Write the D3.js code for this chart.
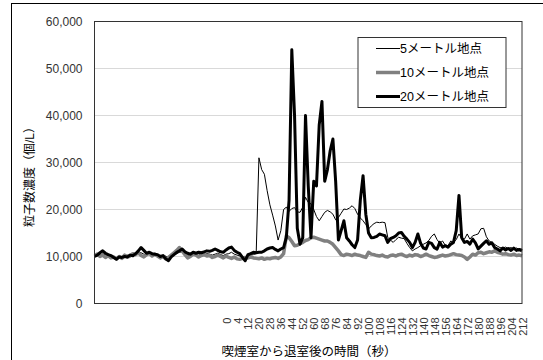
<!DOCTYPE html>
<html>
<head>
<meta charset="utf-8">
<script src="https://cdn.jsdelivr.net/npm/d3@7"></script>
<style>
  body { margin: 0; background: #fff; }
  svg text { font-family: "Liberation Sans", Arial, "Noto Sans CJK JP", sans-serif; }
</style>
</head>
<body>
<svg id="chart" width="543" height="360"></svg>
<script>
// particle concentration (個/L), one value per sample
const series5m = [
  10100, 10400, 10200, 10600, 10300, 10000, 10100, 9800, 9700, 10100,
  10000, 10200, 10300, 10000, 10400, 10700, 11000, 10800, 10500, 10300,
  10600, 10400, 10200, 10300, 10000, 9900, 10100, 9700, 10000, 10500,
  10600, 10900, 11000, 10700, 10300, 10200, 10600, 10400, 10300, 10500,
  10400, 10600, 10500, 10300, 10500, 10700, 10400, 10200, 10500, 10600,
  10900, 10500, 10300, 10100, 10000, 9800, 10100, 10300, 10400, 10600,
  31000, 28500, 27500, 24000, 21000, 18800, 16500, 13500, 15500, 20000,
  20500, 19600, 20200, 20400, 19500, 19400, 20500, 22600, 21500, 21200,
  20000, 18500, 17600, 18500, 19400, 19800, 19500, 19000, 17800, 18300,
  19200, 20100, 20000, 20300, 20800, 20200, 19000, 18200, 17600, 16800,
  15850, 16500, 17000, 17300, 17200, 17300, 17200, 14100, 13500, 13000,
  13600, 14100, 13900, 13800, 12800, 11900, 11200, 11600, 11900, 12300,
  12600, 12900, 13400, 14300, 14800, 13600, 12800, 13300, 12400, 12300,
  13300, 13000, 13600, 14800, 13800, 13700, 14800, 13700, 14400, 14600,
  14800, 15900, 16000, 14200, 13300, 13000, 12600, 12200, 11900, 11800,
  12000, 11700, 11900, 11600, 11800, 11500, 11600
];
const series10m = [
  10200, 10500, 10000, 10300, 9800, 10200, 9700, 9900, 9500, 10000,
  9600, 10300, 9900, 10100, 10600, 10400, 10800, 10200, 9900, 10400,
  10700, 10100, 10500, 10100, 9700, 10000, 9500, 9800, 10300, 10800,
  11300, 11900, 11200, 10400, 9700, 10000, 10500, 10300, 9900, 10200,
  10400, 10100, 10200, 9800, 10000, 10300, 10000, 9700, 10100, 9800,
  9600, 9900, 9500, 9400, 9600, 9800, 9700, 9900, 9700, 9600,
  9500, 9700, 9400, 9600, 9500, 9700, 9800, 9600, 9900, 10600,
  14400, 14000, 13200, 12300, 12400, 12700, 13000, 13400, 13600, 14000,
  14100, 13900, 13700, 13500, 13300, 13300, 13000, 12600, 11900, 11200,
  10400, 10200, 10500, 10400, 10200, 10500, 10300, 10200, 10000, 9800,
  10900, 10500, 10400, 10200, 10100, 10300, 10000, 9900, 10200, 10300,
  10100, 10400, 10500, 10200, 10000, 10300, 10100, 10400, 10300, 10000,
  10200, 10500, 10200, 10000, 9800, 9900, 10100, 10300, 10100, 10200,
  10400, 10600, 10400, 10300, 10200, 9900, 9400, 9900, 10500, 10300,
  10800, 10900, 10600, 10800, 11000, 10900, 11200, 10900, 10700, 10500,
  10600, 10400, 10300, 10500, 10200, 10300, 10150
];
const series20m = [
  10000, 10300, 10800, 11200, 10700, 10400, 10200, 9800, 9400, 9900,
  9800, 10000, 9900, 10300, 10150, 10600, 11200, 11900, 11300, 10700,
  10900, 10600, 10500, 10400, 10000, 10200, 9500, 9100, 9900, 10400,
  10900, 11200, 11600, 11000, 10700, 10500, 10900, 10700, 10900, 10800,
  11000, 11200, 11100, 11300, 11600, 11300, 11000, 10900, 11400, 11800,
  12000, 11300, 10900, 10600, 9800, 9100, 10400, 10600, 10900, 10800,
  10900, 10900, 11200, 11600, 11800, 11900, 11500, 11200, 11600, 11900,
  14000, 22000, 54000, 40000, 16000, 12600, 14000, 40000, 25000, 14000,
  26000, 25000, 38000, 43000, 26000, 28500, 32500, 35000, 26000, 13500,
  15500, 17600, 14000, 13300, 12500, 11900, 13500, 22000, 27200, 19000,
  15000, 14000, 14060, 14300, 14780, 14600, 14420, 13000, 13800, 14060,
  14420, 15000, 15130, 14300, 13700, 13000, 11900, 13000, 14780, 12800,
  11800, 11600, 13000, 12800, 11900, 11580, 13000, 12000, 12300, 12000,
  12600, 13000, 15500, 23000, 14000, 13000, 13200, 12650, 13700, 12900,
  11600, 12200, 12800, 13350, 12600, 12900, 11900, 11600, 11200, 11800,
  11400, 11700, 11300, 11800, 11300, 11500, 11200
];

const seriesNames = ['5メートル地点', '10メートル地点', '20メートル地点'];
const timeLabels = ['0', '4', '12', '20', '28', '36', '44', '52', '60', '68', '76', '84', '92',
  '100', '108', '116', '124', '132', '140', '148', '156', '164', '172', '180', '188', '196', '204', '212'];
const firstLabelIndex = 48; // sample index of label "0"
const labelStep = 4;
const yTicks = [0, 10000, 20000, 30000, 40000, 50000, 60000];

const width = 543;
const height = 360;
const margin = { top: 21.5, right: 21, bottom: 56.5, left: 94.5 };
const chartWidth = width - margin.left - margin.right;
const chartHeight = height - margin.top - margin.bottom;

const svg = d3.select('#chart');

// outer chart frame (right and bottom edges sit outside the picture)
svg.append('rect')
  .attr('x', 11.5)
  .attr('y', 3.5)
  .attr('width', width)
  .attr('height', height)
  .attr('fill', 'none')
  .attr('stroke', '#000')
  .attr('stroke-width', 1);

const xScale = d3.scaleLinear()
  .domain([0, series20m.length - 1])
  .range([0, chartWidth]);

const yScale = d3.scaleLinear()
  .domain([0, 60000])
  .range([chartHeight, 0]);

const g = svg.append('g')
  .attr('transform', `translate(${margin.left},${margin.top})`);

// grid
g.selectAll('.grid')
  .data(yTicks.slice(1, -1))
  .enter()
  .append('line')
  .attr('class', 'grid')
  .attr('x1', 0)
  .attr('x2', chartWidth)
  .attr('y1', (d) => yScale(d))
  .attr('y2', (d) => yScale(d))
  .attr('stroke', '#d9d9d9')
  .attr('stroke-width', 1);

// y axis labels
const yAxis = d3.axisLeft(yScale)
  .tickValues(yTicks)
  .tickSize(0)
  .tickPadding(12)
  .tickFormat(d3.format(','));

g.append('g')
  .attr('class', 'y axis')
  .call(yAxis)
  .call((sel) => sel.select('.domain').remove())
  .selectAll('text')
  .attr('font-size', 12)
  .attr('fill', '#333');

// x axis labels, rotated
const labelIndex = timeLabels.map((d, i) => firstLabelIndex + i * labelStep);
const xAxis = d3.axisBottom(xScale)
  .tickValues(labelIndex)
  .tickSize(0)
  .tickFormat((d, i) => timeLabels[i]);

g.append('g')
  .attr('class', 'x axis')
  .attr('transform', `translate(0,${chartHeight})`)
  .call(xAxis)
  .call((sel) => sel.select('.domain').remove())
  .selectAll('text')
  .attr('font-size', 11)
  .attr('fill', '#333')
  .attr('text-anchor', 'end')
  .attr('dy', null)
  .attr('y', 0)
  .attr('transform', 'translate(4,14) rotate(-90)');

// lines
const styles = [
  { data: series5m, color: '#000', width: 1 },
  { data: series10m, color: '#808080', width: 3.5 },
  { data: series20m, color: '#000', width: 3 }
];

const line = d3.line()
  .x((d, i) => xScale(i))
  .y((d) => yScale(d));

styles.forEach((s) => {
  g.append('path')
    .datum(s.data)
    .attr('fill', 'none')
    .attr('stroke', s.color)
    .attr('stroke-width', s.width)
    .attr('stroke-linejoin', 'round')
    .attr('d', line);
});

// plot border
g.append('rect')
  .attr('width', chartWidth)
  .attr('height', chartHeight)
  .attr('fill', 'none')
  .attr('stroke', '#333')
  .attr('stroke-width', 1);

// legend
const legend = g.append('g')
  .attr('class', 'legend')
  .attr('transform', `translate(${chartWidth - 164}, 16)`);

legend.append('rect')
  .attr('width', 148)
  .attr('height', 70)
  .attr('fill', '#fff')
  .attr('stroke', '#333')
  .attr('stroke-width', 1);

styles.forEach((s, i) => {
  const y = 11 + i * 24;
  legend.append('line')
    .attr('x1', 18)
    .attr('x2', 42)
    .attr('y1', y)
    .attr('y2', y)
    .attr('stroke', s.color)
    .attr('stroke-width', s.width);
  legend.append('text')
    .attr('x', 42)
    .attr('y', y)
    .attr('dy', '0.35em')
    .attr('font-size', 12.5)
    .attr('fill', '#000')
    .text(seriesNames[i]);
});

// axis titles
svg.append('text')
  .attr('x', 309)
  .attr('y', 352)
  .attr('dy', '0.35em')
  .attr('text-anchor', 'middle')
  .attr('font-size', 12.5)
  .attr('fill', '#000')
  .text('喫煙室から退室後の時間（秒）');

svg.append('text')
  .attr('transform', 'translate(30,174) rotate(-90)')
  .attr('dy', '0.35em')
  .attr('text-anchor', 'middle')
  .attr('font-size', 12)
  .attr('fill', '#000')
  .text('粒子数濃度（個/L）');
</script>
</body>
</html>
